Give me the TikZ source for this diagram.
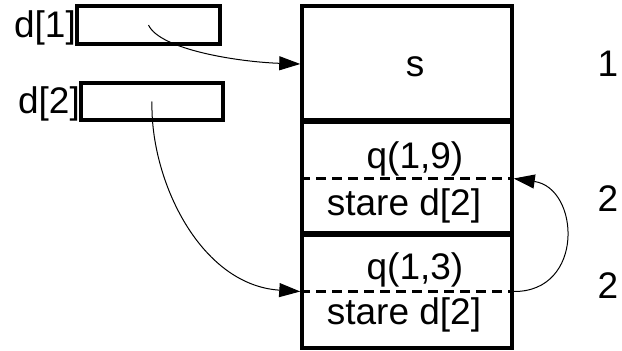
\documentclass[tikz,border=0pt]{standalone}
\usepackage{fontspec}
\setmainfont{Liberation Sans}
\usetikzlibrary{arrows.meta}
\begin{document}
\begin{tikzpicture}[x=1pt,y=-1pt,
  lbl/.style={inner sep=0pt,font=\fontsize{37}{42}\selectfont},
  ptrbox/.style={draw,line width=3.2pt,inner sep=0pt},
  cell/.style={draw,line width=3.5pt,inner sep=0pt,minimum width=210pt},
  sepline/.style={line width=5.5pt},
  field/.style={line width=2.8pt,dash pattern=on 10pt off 6pt},
  link/.style={line width=1pt,-{Triangle[length=21pt,width=14pt]}}]
\useasboundingbox (0,0) rectangle (622,351);

% pointer variables
\node[ptrbox,minimum width=143pt,minimum height=38pt] (d1) at (148.5,25) {};
\node[ptrbox,minimum width=142pt,minimum height=37pt] (d2) at (152,101.5) {};
\node[lbl,anchor=east] (l1) at (76,28) {d[1]};
\node[lbl,anchor=east] (l2) at (80,104) {d[2]};

% stack of records
\node[cell,minimum height=116pt] (sbox) at (407,64) {};
\node[cell,minimum height=113pt] (c1) at (407,178.5) {};
\node[cell,minimum height=113pt] (c2) at (407,291.5) {};
\draw[sepline] (c1.north west) -- (c1.north east);
\draw[sepline] (c2.north west) -- (c2.north east);
\draw[field] (c1.west) -- (c1.east);
\draw[field] (c2.west) -- (c2.east);

\node[lbl] (ts) at (415,67) {s};
\node[lbl] (tq9) at (415,159) {q(1,9)};
\node[lbl] (ta1) at (404,206) {stare d[2]};
\node[lbl] (tq3) at (415,270) {q(1,3)};
\node[lbl] (ta2) at (404,315) {stare d[2]};

% level numbers
\node[lbl] (n1) at (608,63.5) {1};
\node[lbl] (n2) at (608,199) {2};
\node[lbl] (n3) at (608,285.5) {2};

% links
\draw[link] (d1.center) .. controls (160,50) and (240,62) .. (sbox.west);
\draw[link] (d2.center) .. controls (150,180) and (200,285) .. (c2.west);
\draw[link] (c2.east) .. controls (585,292) and (580,188) .. (c1.east);
\end{tikzpicture}
\end{document}
